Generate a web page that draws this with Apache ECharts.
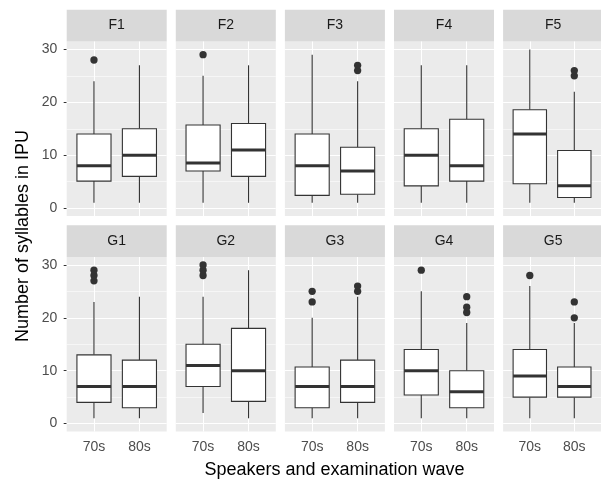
<!DOCTYPE html>
<html>
<head>
<meta charset="utf-8">
<script src="https://cdn.jsdelivr.net/npm/echarts@6/dist/echarts.min.js"></script>
<style>
html, body { margin: 0; padding: 0; background: #fff; }
#main { width: 601px; height: 479px; }
</style>
</head>
<body>
<div id="main"></div>
<script>
// facets and waves
var panels = ['F1', 'F2', 'F3', 'F4', 'F5', 'G1', 'G2', 'G3', 'G4', 'G5'];
var waves = ['70s', '80s'];
var yTicks = [0, 10, 20, 30];
var yMinor = [5, 15, 25];

// 70s boxes: lower whisker, Q1, median, Q3, upper whisker
var lo70  = [1, 1, 1, 1, 1, 1, 2, 1, 1, 1];
var q1_70 = [5.1, 7, 2.4, 4.2, 4.6, 4, 7, 3, 5.4, 5];
var med70 = [8, 8.5, 8, 10, 14, 7, 11, 7, 10, 9];
var q3_70 = [14, 15.7, 14, 15, 18.6, 13, 15, 10.7, 14, 14];
var hi70  = [24, 25, 29, 27, 30, 23, 24, 20, 25, 26];
var out70 = [[28], [29], [], [], [], [27, 28, 29], [28, 29, 30], [23, 25], [29], [28]];

// 80s boxes
var lo80  = [1, 1, 1, 1, 1, 1, 1, 1, 1, 1];
var q1_80 = [6, 6, 2.6, 5.1, 2, 3, 4.2, 4, 3, 5];
var med80 = [10, 11, 7, 8, 4.2, 7, 10, 7, 6, 7];
var q3_80 = [15, 16, 11.5, 16.8, 10.9, 12, 18, 12, 10, 10.7];
var hi80  = [27, 27, 24, 27, 22, 24, 29, 24, 19, 19];
var out80 = [[], [], [26, 27], [], [25, 26], [], [], [25, 26], [21, 22, 24], [20, 23]];

var colLeft = [66.7, 175.8, 284.9, 394, 503.1];
var panelW = 100;
var stripTop = [9.7, 225.2];
var stripH = 31.8;
var panelH = 174.5;
var font = 'Liberation Sans, Arial, sans-serif';

function renderBox(params, api) {
  var x = api.value(0);
  var half = api.size([0.75, 0])[0] / 2;
  var lo = api.coord([x, api.value(1)]);
  var q1 = api.coord([x, api.value(2)]);
  var md = api.coord([x, api.value(3)]);
  var q3 = api.coord([x, api.value(4)]);
  var hi = api.coord([x, api.value(5)]);
  var ls = { stroke: '#333333', lineWidth: 1.1 };
  return {
    type: 'group',
    children: [
      { type: 'line', shape: { x1: lo[0], y1: lo[1], x2: q1[0], y2: q1[1] }, style: ls },
      { type: 'line', shape: { x1: q3[0], y1: q3[1], x2: hi[0], y2: hi[1] }, style: ls },
      { type: 'rect', shape: { x: q3[0] - half, y: q3[1], width: half * 2, height: q1[1] - q3[1] },
        style: { fill: '#ffffff', stroke: '#333333', lineWidth: 1.1 } },
      { type: 'line', shape: { x1: md[0] - half, y1: md[1], x2: md[0] + half, y2: md[1] },
        style: { stroke: '#333333', lineWidth: 3 } }
    ]
  };
}

var grids = [], xAxes = [], yAxes = [], series = [], graphics = [];

panels.forEach(function (name, i) {
  var row = Math.floor(i / 5), col = i % 5;
  var top = stripTop[row] + stripH;
  grids.push({
    left: colLeft[col], top: top, width: panelW, height: panelH,
    show: true, backgroundColor: '#EBEBEB', borderWidth: 0
  });
  xAxes.push({
    type: 'value', gridIndex: i, min: 0.4, max: 2.6,
    axisLine: { show: false }, splitLine: { show: false },
    axisTick: { show: row === 1, customValues: [1, 2], length: 3, lineStyle: { color: '#333333', width: 1 } },
    axisLabel: {
      show: row === 1, customValues: [1, 2], margin: 9,
      formatter: function (v) { return waves[Math.round(v) - 1]; },
      color: '#4D4D4D', fontSize: 14, fontFamily: font
    }
  });
  yAxes.push({
    type: 'value', gridIndex: i, min: -1.5, max: 31.5,
    axisLine: { show: false }, splitLine: { show: false },
    axisTick: { show: col === 0, customValues: yTicks, length: 3, lineStyle: { color: '#333333', width: 1 } },
    axisLabel: { show: col === 0, customValues: yTicks, margin: 9.5, color: '#4D4D4D', fontSize: 14, fontFamily: font }
  });

  var lines = [];
  yTicks.forEach(function (v) { lines.push({ yAxis: v, lineStyle: { width: 1.1 } }); });
  yMinor.forEach(function (v) { lines.push({ yAxis: v, lineStyle: { width: 0.55 } }); });
  [1, 2].forEach(function (v) { lines.push({ xAxis: v, lineStyle: { width: 1.1 } }); });

  series.push({
    type: 'custom', xAxisIndex: i, yAxisIndex: i, z: 2,
    renderItem: renderBox,
    encode: { x: 0, y: [1, 2, 3, 4, 5] },
    data: [
      [1, lo70[i], q1_70[i], med70[i], q3_70[i], hi70[i]],
      [2, lo80[i], q1_80[i], med80[i], q3_80[i], hi80[i]]
    ],
    markLine: {
      silent: true, z: 1, animation: false, symbol: ['none', 'none'],
      label: { show: false },
      lineStyle: { color: '#ffffff', type: 'solid', width: 1.1 },
      data: lines
    }
  });

  var pts = [];
  out70[i].forEach(function (v) { pts.push([1, v]); });
  out80[i].forEach(function (v) { pts.push([2, v]); });
  series.push({
    type: 'scatter', xAxisIndex: i, yAxisIndex: i, z: 3,
    symbolSize: 7.3, itemStyle: { color: '#333333', opacity: 1 },
    data: pts
  });

  graphics.push({
    type: 'rect', left: colLeft[col], top: stripTop[row],
    shape: { width: panelW, height: stripH }, style: { fill: '#D9D9D9' }, silent: true
  });
  graphics.push({
    type: 'text', x: colLeft[col] + panelW / 2, y: stripTop[row] + stripH / 2,
    style: { text: name, fill: '#1A1A1A', font: '14px ' + font, textAlign: 'center', textVerticalAlign: 'middle' },
    silent: true
  });
});

graphics.push({
  type: 'text', x: 334.5, y: 470.5,
  style: { text: 'Speakers and examination wave', fill: '#000000', font: '18px ' + font,
    textAlign: 'center', textVerticalAlign: 'middle' },
  silent: true
});
graphics.push({
  type: 'text', x: 23.5, y: 236, rotation: Math.PI / 2,
  style: { text: 'Number of syllables in IPU', fill: '#000000', font: '18px ' + font,
    textAlign: 'center', textVerticalAlign: 'middle' },
  silent: true
});

var option = {
  animation: false,
  grid: grids,
  xAxis: xAxes,
  yAxis: yAxes,
  series: series,
  graphic: graphics
};
echarts.init(document.getElementById('main')).setOption(option);
</script>
</body>
</html>
